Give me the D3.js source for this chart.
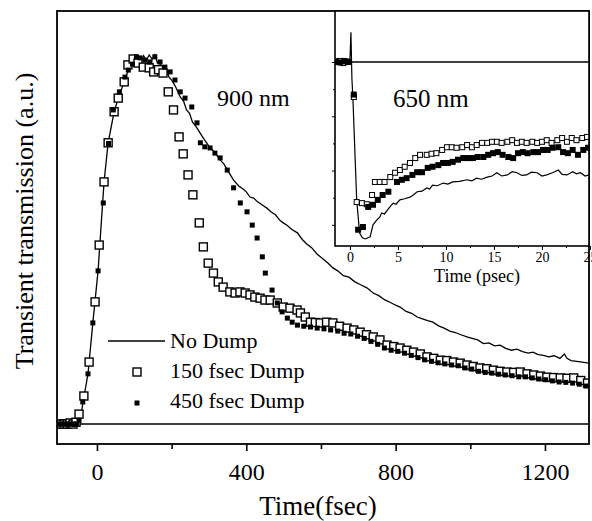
<!DOCTYPE html>
<html>
<head>
<meta charset="utf-8">
<script src="https://cdn.jsdelivr.net/npm/d3@7"></script>
<style>
  body { margin: 0; background: #fff; }
  text { font-family: "Liberation Serif", "Times New Roman", serif; fill: #000; }
</style>
</head>
<body>
<div id="chart"></div>
<script>
// main panel: 900 nm, time in fsec, transmission in a.u.
const noDump = [
  [-107, 0], [-95, 0.006], [-85, -0.004], [-75, 0.005], [-65, -0.003], [-55, 0.004], [-45, 0.01],
  [-38, 0.055], [-24, 0.136], [-11, 0.274], [3, 0.415], [19, 0.656], [30, 0.762], [46, 0.846],
  [57, 0.883], [73, 0.927], [89, 0.973], [100, 0.99], [110, 0.995], [118, 0.982], [125, 0.998],
  [132, 0.985], [140, 1.0], [148, 0.988], [155, 1.0], [162, 0.978], [170, 0.975], [178, 0.958],
  [186, 0.962], [193, 0.94], [200, 0.932], [210, 0.915], [223, 0.886], [232, 0.875], [240, 0.851],
  [248, 0.842], [256, 0.818], [266, 0.805], [276, 0.789], [288, 0.77], [300, 0.753], [310, 0.742],
  [320, 0.729], [330, 0.715], [340, 0.705], [352, 0.684], [366, 0.661], [380, 0.645], [392, 0.636],
  [400, 0.629], [410, 0.615], [420, 0.612], [430, 0.602], [442, 0.594], [455, 0.585], [466, 0.575],
  [478, 0.567], [490, 0.552], [499, 0.545], [510, 0.538], [522, 0.527], [537, 0.518], [550, 0.5],
  [562, 0.488], [575, 0.478], [590, 0.46], [605, 0.448], [620, 0.435], [632, 0.423], [645, 0.415],
  [660, 0.402], [675, 0.398], [690, 0.386], [705, 0.378], [723, 0.369], [740, 0.355], [755, 0.348],
  [770, 0.337], [785, 0.33], [800, 0.322], [812, 0.317], [828, 0.305], [843, 0.3], [858, 0.29],
  [872, 0.285], [886, 0.28], [900, 0.276], [915, 0.266], [930, 0.26], [945, 0.252], [960, 0.248],
  [975, 0.242], [991, 0.236], [1005, 0.232], [1020, 0.228], [1035, 0.218], [1050, 0.22], [1065, 0.212],
  [1080, 0.214], [1095, 0.205], [1110, 0.2], [1125, 0.203], [1140, 0.196], [1155, 0.192], [1168, 0.195],
  [1182, 0.188], [1196, 0.186], [1210, 0.182], [1225, 0.185], [1240, 0.178], [1252, 0.19], [1259, 0.178],
  [1270, 0.172], [1285, 0.17], [1300, 0.168], [1318, 0.165]
];

const dump150 = [
  [-104, 0], [-96, 0], [-88, 0], [-80, 0], [-72, 0.003], [-64, 0], [-56, 0.005], [-48, 0.027],
  [-35, 0.076], [-21, 0.168], [-5, 0.331], [6, 0.485], [19, 0.656], [30, 0.762], [46, 0.846],
  [57, 0.883], [73, 0.927], [83, 0.973], [97, 0.989], [110, 0.978], [124, 0.967], [140, 0.965],
  [152, 0.954], [165, 0.96], [177, 0.951], [191, 0.9], [205, 0.851], [220, 0.778], [231, 0.732],
  [244, 0.675], [257, 0.621], [274, 0.545], [285, 0.48], [298, 0.436], [312, 0.409], [325, 0.385],
  [338, 0.371], [356, 0.358], [370, 0.355], [383, 0.358], [397, 0.355], [410, 0.35], [423, 0.344],
  [437, 0.341], [450, 0.336], [464, 0.336], [483, 0.328], [499, 0.317], [517, 0.314], [536, 0.309],
  [545, 0.301], [558, 0.29], [572, 0.276], [585, 0.275], [598, 0.274], [615, 0.276], [632, 0.274],
  [650, 0.265], [670, 0.26], [688, 0.255], [705, 0.249], [722, 0.242], [740, 0.236], [758, 0.228],
  [777, 0.214], [795, 0.21], [812, 0.206], [830, 0.2], [848, 0.195], [866, 0.19], [884, 0.182],
  [902, 0.178], [920, 0.173], [937, 0.172], [955, 0.168], [973, 0.165], [991, 0.16], [1008, 0.156],
  [1026, 0.152], [1044, 0.15], [1062, 0.146], [1080, 0.143], [1098, 0.141], [1116, 0.14], [1134, 0.141],
  [1152, 0.136], [1170, 0.133], [1188, 0.13], [1205, 0.127], [1223, 0.126], [1241, 0.125], [1259, 0.124],
  [1277, 0.125], [1296, 0.118], [1314, 0.111]
];

const dump450 = [
  [-104, 0], [-97, 0], [-90, 0], [-83, 0], [-76, 0], [-69, 0], [-62, 0], [-55, 0], [-48, 0.01],
  [-38, 0.06], [-24, 0.136], [-11, 0.274], [3, 0.415], [17, 0.599], [31, 0.76], [44, 0.851],
  [60, 0.9], [75, 0.94], [84, 0.959], [95, 0.975], [106, 0.995], [115, 0.992], [129, 0.986],
  [142, 0.981], [155, 0.995], [169, 0.981], [182, 0.967], [196, 0.954], [209, 0.932], [223, 0.9],
  [236, 0.883], [254, 0.859], [268, 0.816], [277, 0.762], [289, 0.751], [303, 0.748], [316, 0.734],
  [330, 0.721], [349, 0.688], [366, 0.64], [384, 0.599], [402, 0.575], [416, 0.539], [429, 0.504],
  [443, 0.453], [451, 0.409], [469, 0.363], [483, 0.328], [496, 0.304], [510, 0.287], [523, 0.276],
  [537, 0.268], [554, 0.265], [572, 0.263], [590, 0.26], [608, 0.258], [626, 0.255], [645, 0.252],
  [662, 0.246], [680, 0.244], [698, 0.238], [716, 0.232], [734, 0.224], [752, 0.216], [770, 0.206],
  [788, 0.2], [806, 0.197], [824, 0.192], [842, 0.186], [860, 0.18], [878, 0.174], [896, 0.17],
  [914, 0.166], [932, 0.163], [950, 0.16], [968, 0.158], [986, 0.152], [1004, 0.149], [1022, 0.143],
  [1040, 0.14], [1058, 0.138], [1076, 0.135], [1094, 0.133], [1112, 0.131], [1130, 0.128], [1148, 0.128],
  [1166, 0.125], [1184, 0.122], [1202, 0.12], [1220, 0.117], [1238, 0.114], [1256, 0.113], [1274, 0.111],
  [1292, 0.108], [1310, 0.103]
];

// inset: 650 nm, time in psec
const insetNoDump = [
  [-1.6, 0.02], [-1.2, -0.03], [-0.8, 0.04], [-0.4, -0.02], [0, 0.05], [0.1, 0.55], [0.2, -0.3],
  [0.3, -0.645], [0.7, -2.54], [1.0, -3.15], [1.3, -3.24], [1.6, -3.26], [2.1, -3.22], [2.4, -3.0],
  [2.8, -2.91], [3.1, -2.86], [3.3, -2.78], [3.6, -2.8], [3.9, -2.73], [4.2, -2.66], [4.5, -2.6],
  [4.8, -2.62], [5.2, -2.54], [5.7, -2.52], [6.25, -2.49], [6.6, -2.45], [7.0, -2.39], [7.5, -2.38],
  [8.0, -2.32], [8.3, -2.34], [8.6, -2.27], [9.1, -2.28], [9.7, -2.23], [10.2, -2.25], [10.7, -2.21],
  [11.4, -2.2], [12.2, -2.17], [12.7, -2.19], [13.2, -2.14], [13.7, -2.16], [14.3, -2.12], [14.8, -2.1],
  [15.3, -2.04], [15.8, -2.1], [16.4, -2.08], [16.9, -2.02], [17.4, -2.04], [17.9, -2.09], [18.4, -2.08],
  [18.9, -2.03], [19.5, -2.04], [20.0, -2.1], [20.5, -2.08], [21.1, -2.04], [21.7, -1.99], [22.1, -2.07],
  [22.6, -2.08], [23.2, -2.02], [23.6, -2.06], [24.0, -2.04], [24.5, -2.1], [24.9, -2.08]
];

const insetDump150 = [
  [-1.5, 0], [-1.1, 0.02], [-0.7, -0.02], [-0.3, 0.01], [0.4, -0.645], [0.7, -2.58], [1.25, -2.6],
  [1.75, -2.62], [2.3, -2.45], [2.6, -2.21], [3.1, -2.21], [3.6, -2.21], [4.2, -2.12], [4.7, -2.04],
  [5.2, -1.99], [5.7, -1.93], [6.25, -1.86], [6.8, -1.77], [7.3, -1.71], [8.0, -1.71], [8.5, -1.69],
  [9.0, -1.68], [9.6, -1.62], [10.1, -1.57], [10.6, -1.57], [11.1, -1.58], [11.7, -1.57], [12.2, -1.53],
  [12.7, -1.57], [13.2, -1.53], [13.75, -1.49], [14.3, -1.49], [14.8, -1.47], [15.3, -1.47], [15.8, -1.49],
  [16.4, -1.47], [16.9, -1.44], [17.4, -1.49], [17.9, -1.47], [18.4, -1.49], [19.0, -1.47], [19.5, -1.49],
  [20.0, -1.47], [20.5, -1.44], [21.0, -1.49], [21.6, -1.44], [22.1, -1.4], [22.6, -1.47], [23.1, -1.4],
  [23.6, -1.44], [24.2, -1.4], [24.7, -1.38]
];

const insetDump450 = [
  [-1.4, 0.01], [-1.0, -0.01], [-0.6, 0.02], [-0.2, 0], [0.4, -0.6], [0.85, -3.09], [1.35, -3.04],
  [1.9, -2.67], [2.4, -2.63], [2.9, -2.54], [3.4, -2.45], [4.0, -2.39], [4.9, -2.21], [5.4, -2.17],
  [5.9, -2.14], [6.5, -2.08], [7.0, -2.03], [7.5, -2.03], [8.1, -1.95], [8.6, -1.93], [9.2, -1.9],
  [9.7, -1.86], [10.2, -1.86], [10.7, -1.84], [11.25, -1.8], [11.8, -1.77], [12.3, -1.77], [12.8, -1.77],
  [13.3, -1.75], [13.9, -1.75], [14.4, -1.71], [14.9, -1.68], [15.4, -1.66], [15.9, -1.71], [16.5, -1.75],
  [17.0, -1.77], [17.5, -1.68], [18.0, -1.66], [18.5, -1.68], [19.1, -1.66], [19.6, -1.66], [20.1, -1.62],
  [20.6, -1.62], [21.1, -1.58], [21.7, -1.57], [22.2, -1.66], [22.7, -1.68], [23.2, -1.62], [23.75, -1.71],
  [24.3, -1.62], [24.8, -1.58]
];

const mainMajorTicks = [0, 400, 800, 1200];
const mainMinorTicks = [200, 600, 1000];
const insetMajorTicks = [0, 5, 10, 15, 20, 25];
const insetMinorTicks = [2.5, 7.5, 12.5, 17.5, 22.5];
const insetYTicks = [0, -1, -2, -3];
const insetYMinor = [-0.5, -1.5, -2.5];
const legendLabels = ["No Dump", "150 fsec Dump", "450 fsec Dump"];

const width = 592;
const height = 521;

const frame = { left: 57, right: 589, top: 11, bottom: 444 };
const inset = { left: 335, right: 589, top: 11, bottom: 246 };

const svg = d3.select("#chart").append("svg")
  .attr("width", width)
  .attr("height", height);

const x = d3.scaleLinear().domain([-107, 1318]).range([frame.left, frame.right]);
const y = d3.scaleLinear().domain([-0.054, 1.119]).range([frame.bottom, frame.top]);

const defs = svg.append("defs");
defs.append("clipPath").attr("id", "mainClip")
  .append("rect")
  .attr("x", frame.left).attr("y", frame.top)
  .attr("width", frame.right - frame.left).attr("height", frame.bottom - frame.top);
defs.append("clipPath").attr("id", "insetClip")
  .append("rect")
  .attr("x", inset.left).attr("y", inset.top)
  .attr("width", inset.right - inset.left).attr("height", inset.bottom - inset.top);

const main = svg.append("g").attr("clip-path", "url(#mainClip)");

// zero line
main.append("line")
  .attr("x1", frame.left).attr("x2", frame.right)
  .attr("y1", y(0)).attr("y2", y(0))
  .attr("stroke", "#000").attr("stroke-width", 1.6);

const line = d3.line().x(d => x(d[0])).y(d => y(d[1]));

main.append("path")
  .datum(noDump)
  .attr("fill", "none")
  .attr("stroke", "#000")
  .attr("stroke-width", 1.3)
  .attr("d", line);

main.selectAll(".sq")
  .data(dump150)
  .join("rect")
  .attr("x", d => x(d[0]) - 4)
  .attr("y", d => y(d[1]) - 4)
  .attr("width", 8).attr("height", 8)
  .attr("fill", "#fff")
  .attr("stroke", "#000")
  .attr("stroke-width", 1.4);

main.selectAll(".dot")
  .data(dump450)
  .join("rect")
  .attr("x", d => x(d[0]) - 2.5)
  .attr("y", d => y(d[1]) - 2.5)
  .attr("width", 5).attr("height", 5)
  .attr("fill", "#000");

// main frame and x axis
svg.append("rect")
  .attr("x", frame.left).attr("y", frame.top)
  .attr("width", frame.right - frame.left).attr("height", frame.bottom - frame.top)
  .attr("fill", "none").attr("stroke", "#000").attr("stroke-width", 1.8);

const xAxis = svg.append("g")
  .attr("transform", "translate(0," + frame.bottom + ")")
  .call(d3.axisBottom(x).tickValues(mainMajorTicks).tickSize(7).tickPadding(12).tickFormat(d3.format("d")));
xAxis.select(".domain").remove();
xAxis.selectAll("line").attr("stroke-width", 1.6);
xAxis.selectAll("text").style("font-size", "24px").style("font-family", "Liberation Serif, serif");

const xMinor = svg.append("g")
  .attr("transform", "translate(0," + frame.bottom + ")")
  .call(d3.axisBottom(x).tickValues(mainMinorTicks).tickSize(5).tickFormat(""));
xMinor.select(".domain").remove();
xMinor.selectAll("line").attr("stroke-width", 1.6);

svg.append("text")
  .attr("x", 318).attr("y", 515)
  .attr("text-anchor", "middle")
  .style("font-size", "27px")
  .text("Time(fsec)");

svg.append("text")
  .attr("transform", "translate(33,221) rotate(-90)")
  .attr("text-anchor", "middle")
  .style("font-size", "26px")
  .text("Transient transmission (a.u.)");

svg.append("text")
  .attr("x", 217).attr("y", 106)
  .style("font-size", "24px")
  .text("900 nm");

// legend
const legend = svg.append("g");
legend.append("line")
  .attr("x1", 108).attr("x2", 165).attr("y1", 341).attr("y2", 341)
  .attr("stroke", "#000").attr("stroke-width", 1.3);
legend.append("rect")
  .attr("x", 133).attr("y", 368).attr("width", 8).attr("height", 8)
  .attr("fill", "#fff").attr("stroke", "#000").attr("stroke-width", 1.4);
legend.append("rect")
  .attr("x", 134.5).attr("y", 400.5).attr("width", 5).attr("height", 5)
  .attr("fill", "#000");
legend.selectAll("text")
  .data(legendLabels)
  .join("text")
  .attr("x", 170)
  .attr("y", (d, i) => 348 + i * 30)
  .style("font-size", "22px")
  .text(d => d);

// inset
const xi = d3.scaleLinear().domain([-1.56, 24.9]).range([inset.left, inset.right]);
const yi = d3.scaleLinear().domain([-3.39, 0.94]).range([inset.bottom, inset.top]);

svg.append("rect")
  .attr("x", inset.left).attr("y", inset.top)
  .attr("width", inset.right - inset.left).attr("height", inset.bottom - inset.top)
  .attr("fill", "#fff");

const ig = svg.append("g").attr("clip-path", "url(#insetClip)");

ig.append("line")
  .attr("x1", xi(0)).attr("x2", inset.right)
  .attr("y1", yi(0)).attr("y2", yi(0))
  .attr("stroke", "#000").attr("stroke-width", 1.6);

const iline = d3.line().x(d => xi(d[0])).y(d => yi(d[1]));

ig.append("path")
  .datum(insetNoDump)
  .attr("fill", "none")
  .attr("stroke", "#000")
  .attr("stroke-width", 1.2)
  .attr("d", iline);

ig.selectAll(".isq")
  .data(insetDump150)
  .join("rect")
  .attr("x", d => xi(d[0]) - 2.5)
  .attr("y", d => yi(d[1]) - 2.5)
  .attr("width", 5).attr("height", 5)
  .attr("fill", "#fff")
  .attr("stroke", "#000")
  .attr("stroke-width", 1);

ig.selectAll(".idot")
  .data(insetDump450)
  .join("rect")
  .attr("x", d => xi(d[0]) - 3)
  .attr("y", d => yi(d[1]) - 3)
  .attr("width", 6).attr("height", 6)
  .attr("fill", "#000");

svg.append("rect")
  .attr("x", inset.left).attr("y", inset.top)
  .attr("width", inset.right - inset.left).attr("height", inset.bottom - inset.top)
  .attr("fill", "none").attr("stroke", "#000").attr("stroke-width", 1.6);

const xiAxis = svg.append("g")
  .attr("transform", "translate(0," + inset.bottom + ")")
  .call(d3.axisBottom(xi).tickValues(insetMajorTicks).tickSize(4).tickPadding(2));
xiAxis.select(".domain").remove();
xiAxis.selectAll("text").style("font-size", "14px").style("font-family", "Liberation Serif, serif");

const xiMinor = svg.append("g")
  .attr("transform", "translate(0," + inset.bottom + ")")
  .call(d3.axisBottom(xi).tickValues(insetMinorTicks).tickSize(2).tickFormat(""));
xiMinor.select(".domain").remove();

const yiAxis = svg.append("g")
  .attr("transform", "translate(" + inset.left + ",0)")
  .call(d3.axisLeft(yi).tickValues(insetYTicks).tickSize(3).tickFormat(""));
yiAxis.select(".domain").remove();

const yiMinor = svg.append("g")
  .attr("transform", "translate(" + inset.left + ",0)")
  .call(d3.axisLeft(yi).tickValues(insetYMinor).tickSize(2).tickFormat(""));
yiMinor.select(".domain").remove();

svg.append("text")
  .attr("x", 477).attr("y", 282)
  .attr("text-anchor", "middle")
  .style("font-size", "18px")
  .text("Time (psec)");

svg.append("text")
  .attr("x", 393).attr("y", 107)
  .style("font-size", "25px")
  .text("650 nm");
</script>
</body>
</html>
